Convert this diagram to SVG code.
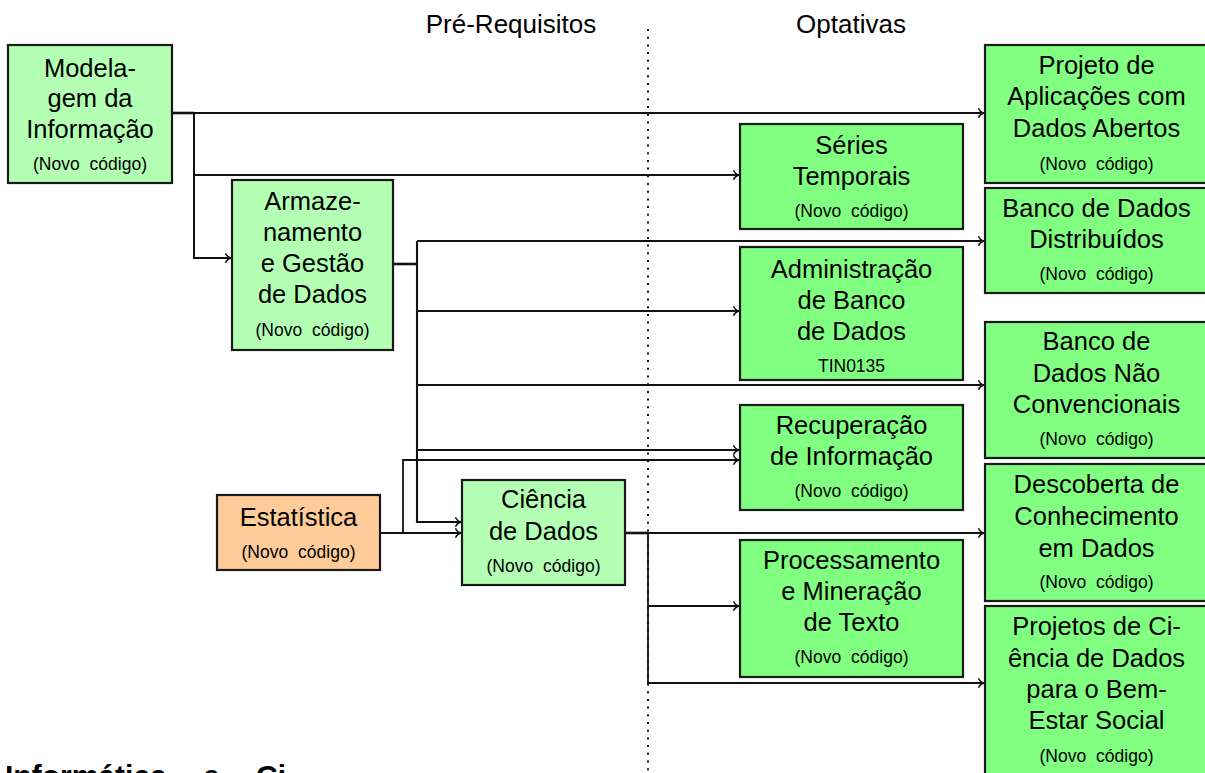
<svg xmlns="http://www.w3.org/2000/svg" width="1205" height="773" viewBox="0 0 1205 773">
<style>
text{font-family:"Liberation Sans",Arial,Helvetica,sans-serif;fill:#000;text-anchor:middle}
.t{font-size:25.5px}
.s{font-size:17.5px;word-spacing:5px}
.h{font-size:26px}
.b{font-size:30px;font-weight:bold;text-anchor:start}
.n rect{stroke:#1a1a1a;stroke-width:2.2}
.l1{fill:#b3ffb3}
.l2{fill:#80ff80}
.or{fill:#ffcc99}
.c path{fill:none;stroke:#111;stroke-width:1.8}
.c .st{stroke-width:2.6}
</style>
<defs>
<marker id="ar" markerUnits="userSpaceOnUse" viewBox="-8 -6 10 12" refX="0" refY="0" markerWidth="10" markerHeight="12" orient="auto">
<path d="M-5.5,-4.8 C-4.5,-2 -2,-0.6 0,0 C-2,0.6 -4.5,2 -5.5,4.8" fill="none" stroke="#111" stroke-width="1.5"/>
</marker>
</defs>
<rect width="1205" height="773" fill="#fff"/>
<g id="headers">
<text class="h" x="511" y="33">Pré-Requisitos</text>
<text class="h" x="851" y="33">Optativas</text>
<path d="M648,29 V773" stroke="#111" stroke-width="2" stroke-dasharray="2 5.7" fill="none"/>
</g>
<g id="connectors" class="c">
<path d="M172,113 H194" class="st"/>
<path d="M194,113 H984" marker-end="url(#ar)"/>
<path d="M194,113 V258 H231" marker-end="url(#ar)" style="stroke-width:2"/>
<path d="M194,175 H739" marker-end="url(#ar)"/>
<path d="M393,264 H417" class="st"/>
<path d="M417,241 V522 H461" marker-end="url(#ar)" style="stroke-width:2.1"/>
<path d="M417,241 H984" marker-end="url(#ar)"/>
<path d="M417,311 H739" marker-end="url(#ar)"/>
<path d="M417,385 H984" marker-end="url(#ar)"/>
<path d="M417,450 H739" marker-end="url(#ar)"/>
<path d="M380,533 H461" marker-end="url(#ar)" style="stroke-width:2.1"/>
<path d="M403,533 V460 H739" marker-end="url(#ar)"/>
<path d="M625,533 H648" class="st"/>
<path d="M648,533 H984" marker-end="url(#ar)"/>
<path d="M648,533 V683 H984" marker-end="url(#ar)"/>
<path d="M648,606 H739" marker-end="url(#ar)"/>
</g>
<g id="modelagem" class="n">
<rect class="l1" x="8" y="45" width="164" height="138"/>
<text class="t" x="90" y="77">Modela-</text>
<text class="t" x="90" y="107">gem da</text>
<text class="t" x="90" y="138">Informação</text>
<text class="s" x="90" y="170">(Novo código)</text>
</g>
<g id="armazenamento" class="n">
<rect class="l1" x="232" y="180" width="161" height="170"/>
<text class="t" x="312.5" y="210">Armaze-</text>
<text class="t" x="312.5" y="241">namento</text>
<text class="t" x="312.5" y="272">e Gestão</text>
<text class="t" x="312.5" y="303">de Dados</text>
<text class="s" x="312.5" y="336">(Novo código)</text>
</g>
<g id="estatistica" class="n">
<rect class="or" x="217" y="495" width="163" height="75"/>
<text class="t" x="298.5" y="526">Estatística</text>
<text class="s" x="298.5" y="558">(Novo código)</text>
</g>
<g id="ciencia" class="n">
<rect class="l1" x="462" y="480" width="163" height="105"/>
<text class="t" x="543.5" y="508">Ciência</text>
<text class="t" x="543.5" y="540">de Dados</text>
<text class="s" x="543.5" y="572">(Novo código)</text>
</g>
<g id="series" class="n">
<rect class="l2" x="740" y="124" width="223" height="105"/>
<text class="t" x="851.5" y="154">Séries</text>
<text class="t" x="851.5" y="185">Temporais</text>
<text class="s" x="851.5" y="217">(Novo código)</text>
</g>
<g id="administracao" class="n">
<rect class="l2" x="740" y="247" width="223" height="133"/>
<text class="t" x="851.5" y="278">Administração</text>
<text class="t" x="851.5" y="309">de Banco</text>
<text class="t" x="851.5" y="340">de Dados</text>
<text class="s" x="851.5" y="372">TIN0135</text>
</g>
<g id="recuperacao" class="n">
<rect class="l2" x="740" y="405" width="223" height="105"/>
<text class="t" x="851.5" y="434">Recuperação</text>
<text class="t" x="851.5" y="465">de Informação</text>
<text class="s" x="851.5" y="497">(Novo código)</text>
</g>
<g id="processamento" class="n">
<rect class="l2" x="740" y="540" width="223" height="137"/>
<text class="t" x="851.5" y="569">Processamento</text>
<text class="t" x="851.5" y="600">e Mineração</text>
<text class="t" x="851.5" y="631">de Texto</text>
<text class="s" x="851.5" y="663">(Novo código)</text>
</g>
<g id="projeto-aplicacoes" class="n">
<rect class="l2" x="985" y="45" width="223" height="138"/>
<text class="t" x="1096.5" y="74">Projeto de</text>
<text class="t" x="1096.5" y="105">Aplicações com</text>
<text class="t" x="1096.5" y="137">Dados Abertos</text>
<text class="s" x="1096.5" y="170">(Novo código)</text>
</g>
<g id="banco-distribuidos" class="n">
<rect class="l2" x="985" y="188" width="223" height="105"/>
<text class="t" x="1096.5" y="217">Banco de Dados</text>
<text class="t" x="1096.5" y="248">Distribuídos</text>
<text class="s" x="1096.5" y="280">(Novo código)</text>
</g>
<g id="banco-nao-convencionais" class="n">
<rect class="l2" x="985" y="322" width="223" height="136"/>
<text class="t" x="1096.5" y="350">Banco de</text>
<text class="t" x="1096.5" y="382">Dados Não</text>
<text class="t" x="1096.5" y="413">Convencionais</text>
<text class="s" x="1096.5" y="445">(Novo código)</text>
</g>
<g id="descoberta" class="n">
<rect class="l2" x="985" y="464" width="223" height="137"/>
<text class="t" x="1096.5" y="493">Descoberta de</text>
<text class="t" x="1096.5" y="525">Conhecimento</text>
<text class="t" x="1096.5" y="557">em Dados</text>
<text class="s" x="1096.5" y="588">(Novo código)</text>
</g>
<g id="projetos-ciencia" class="n">
<rect class="l2" x="985" y="606" width="223" height="200"/>
<text class="t" x="1096.5" y="635">Projetos de Ci-</text>
<text class="t" x="1096.5" y="667">ência de Dados</text>
<text class="t" x="1096.5" y="698">para o Bem-</text>
<text class="t" x="1096.5" y="729">Estar Social</text>
<text class="s" x="1096.5" y="762">(Novo código)</text>
</g>
<g id="footer">
<text class="b" x="5" y="786" style="word-spacing:28px">Informática e Ci</text>
</g>
</svg>
